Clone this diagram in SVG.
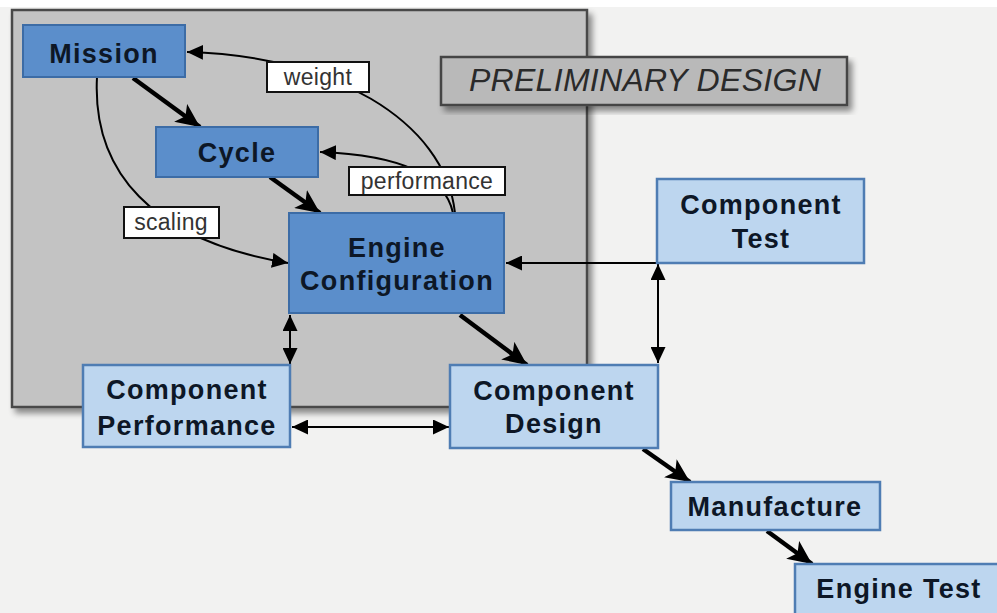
<svg xmlns="http://www.w3.org/2000/svg" width="997" height="613" viewBox="0 0 997 613">
<defs>
<style>
.dark{fill:#5b8ecb;stroke:#3c6ca6;stroke-width:2}
.light{fill:#bdd6ef;stroke:#4f7db3;stroke-width:2.5}
.nt{font-family:"Liberation Sans",Arial,sans-serif;font-weight:bold;font-size:27px;letter-spacing:1.3px;fill:#0d1726;text-anchor:middle}
.lb{fill:#fff;stroke:#111;stroke-width:2}
.lt{font-family:"Liberation Sans",Arial,sans-serif;font-size:23px;letter-spacing:0.3px;fill:#333;text-anchor:middle}
.thick{fill:none;stroke:#000;stroke-width:4.5}
.thin{fill:none;stroke:#000;stroke-width:2}
</style>
<filter id="sh" x="-10%" y="-10%" width="130%" height="130%">
<feGaussianBlur in="SourceAlpha" stdDeviation="3"/>
<feOffset dx="4" dy="5" result="b"/>
<feComponentTransfer><feFuncA type="linear" slope="0.45"/></feComponentTransfer>
<feMerge><feMergeNode/><feMergeNode in="SourceGraphic"/></feMerge>
</filter>
<marker id="big" markerUnits="userSpaceOnUse" markerWidth="26" markerHeight="22" refX="24" refY="11" orient="auto">
<path d="M0,0 L24,11 L0,22 L6,11 z" fill="#000"/>
</marker>
<marker id="sm" markerUnits="userSpaceOnUse" markerWidth="17" markerHeight="15" refX="16" refY="7.5" orient="auto-start-reverse">
<path d="M0,0 L16,7.5 L0,15 z" fill="#000"/>
</marker>
</defs>
<rect x="0" y="0" width="997" height="613" fill="#f2f2f1"/>
<rect x="0" y="0" width="997" height="7" fill="#ffffff"/>

<g id="panel">
<rect x="12" y="10" width="575" height="397" fill="#c3c3c3" stroke="#4a4a4a" stroke-width="2.5" filter="url(#sh)"/>
</g>
<g id="title">
<rect x="441" y="57" width="406" height="48" fill="#b9b9b9" stroke="#444" stroke-width="2.5" filter="url(#sh)"/>
<text x="645" y="91" font-family="'Liberation Sans',Arial,sans-serif" font-style="italic" font-size="32" letter-spacing="0.3" fill="#2a2a2a" text-anchor="middle">PRELIMINARY DESIGN</text>
</g>

<g id="connectors">
<path class="thin" d="M455 213 C445 120 330 55 187 52" marker-end="url(#sm)"/>
<path class="thin" d="M453 213 C445 175 400 155 320 152" marker-end="url(#sm)"/>
<path class="thin" d="M97 77 C92 170 150 240 288 263" marker-end="url(#sm)"/>
<path class="thick" d="M133 78 L200 127" marker-end="url(#big)"/>
<path class="thick" d="M270 177 L320 213" marker-end="url(#big)"/>
<path class="thick" d="M460 315 L527 365" marker-end="url(#big)"/>
<path class="thick" d="M643 449 L690 482" marker-end="url(#big)"/>
<path class="thick" d="M767 531 L812 564" marker-end="url(#big)"/>
<path class="thin" d="M658 263 L506 263" marker-end="url(#sm)"/>
<path class="thin" d="M658 264 L658 363" marker-start="url(#sm)" marker-end="url(#sm)"/>
<path class="thin" d="M290 315 L290 364" stroke-width="2.5" marker-start="url(#sm)" marker-end="url(#sm)"/>
<path class="thin" d="M292 427 L449 427" stroke-width="2.5" marker-start="url(#sm)" marker-end="url(#sm)"/>
</g>

<g id="label-weight"><rect class="lb" x="267" y="62" width="102" height="30"/><text class="lt" x="318" y="85">weight</text></g>
<g id="label-performance"><rect class="lb" x="349" y="167" width="156" height="28"/><text class="lt" x="427" y="189">performance</text></g>
<g id="label-scaling"><rect class="lb" x="124" y="207" width="95" height="31"/><text class="lt" x="171" y="230">scaling</text></g>

<g id="mission"><rect class="dark" x="23" y="25" width="162" height="52"/><text class="nt" x="104" y="63">Mission</text></g>
<g id="cycle"><rect class="dark" x="156" y="127" width="162" height="50"/><text class="nt" x="237" y="162">Cycle</text></g>
<g id="engine-configuration"><rect class="dark" x="289" y="213" width="215" height="100"/><text class="nt" x="397" y="257">Engine</text><text class="nt" x="397" y="290">Configuration</text></g>
<g id="component-test"><rect class="light" x="657" y="179" width="207" height="84"/><text class="nt" x="761" y="214">Component</text><text class="nt" x="761" y="248">Test</text></g>
<g id="component-performance"><rect class="light" x="83" y="365" width="207" height="82"/><text class="nt" x="187" y="399">Component</text><text class="nt" x="187" y="435">Performance</text></g>
<g id="component-design"><rect class="light" x="450" y="365" width="208" height="83"/><text class="nt" x="554" y="400">Component</text><text class="nt" x="554" y="433">Design</text></g>
<g id="manufacture"><rect class="light" x="671" y="482" width="209" height="48"/><text class="nt" x="775" y="516">Manufacture</text></g>
<g id="engine-test"><rect class="light" x="795" y="564" width="212" height="60"/><text class="nt" x="899" y="598">Engine Test</text></g>
</svg>
